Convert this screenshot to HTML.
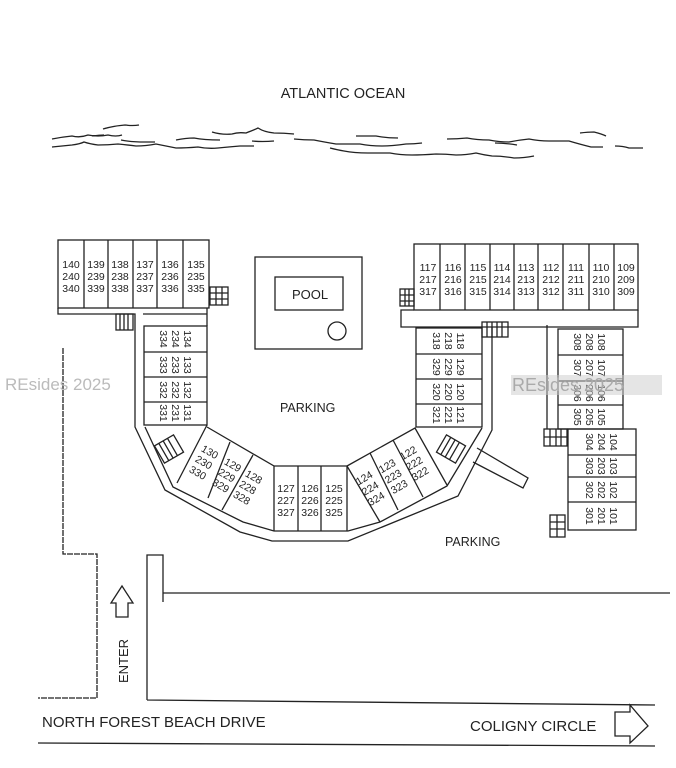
<!DOCTYPE html>
<html><head><meta charset="utf-8"><style>
html,body{margin:0;padding:0;background:#fff;}
svg{display:block;}
text{font-family:"Liberation Sans",sans-serif;fill:#222;}
.u{font-size:10.5px;text-anchor:middle;}
</style></head><body>
<svg width="676" height="768" viewBox="0 0 676 768" xmlns="http://www.w3.org/2000/svg">
<g fill="none" stroke="#222" stroke-width="1.3">
<!-- waves -->
<path d="M52 139 q10-2 20-3 q8 2 16-1 q10 2 20 0 q8 2 14 0 M92 136 q8-1 12-1 M103 129 q10-3 22-4 q8 1 14 0 M121 140 q10 2 24 2 q6 0 10 0 M176 140 q10-2 18-2 q10 2 26 2 M212 132 q10 3 20 2 q6-2 14-1 q8-3 12-5 q6 4 16 5 q10 0 20 1 M252 141 q10 1 22 0 M294 139 q10 1 20 1 q10 2 22 4 q10 0 24 0 q10 2 22 2 q10 0 24 -2 q8 0 16-1 M356 136 q10 0 20 0 q10 2 22 2 M447 139 q10 0 20-1 q10 2 22 2 q10 2 20 2 q10-2 20-3 q10 2 20 2 q10 0 20 0 q10 3 22 6 q6 0 12 0 M580 133 q8-1 14-1 q8 2 12 4 M495 143 q10 0 22 2 M52 147 q10-1 20-2 q8-1 12-3 q6 2 14 3 q10 0 20-1 q10 1 18 2 q10 0 20-2 q10 2 20 4 q10 0 22-1 q10 2 20 1 q10-1 22-2 q8 0 14 0 M330 148 q8 2 14 3 q10 2 24 2 q10 0 22 0 q10 2 22 2 q10 0 24-1 q10 0 20 1 q10 0 20-2 q8 2 16 3 q10 0 22 2 q10 0 20-2 M615 146 q8 0 14 2 q8 0 14 0"/>
<!-- top-left building -->
<rect x="58" y="240" width="151" height="68"/>
<path d="M84 240V308M108 240V308M133 240V308M157 240V308M183 240V308"/>
<path d="M58 308V314H135V427L165 490L240 532L272 541H348L458 496L492 430V327"/>
<path d="M207 308V326"/>
<path d="M143 314H207"/>
<!-- left column units -->
<rect x="144" y="326" width="63" height="99"/>
<path d="M144 352H207M144 377H207M144 402H207"/>
<path d="M145 427L173 487L243 522L274 531H348L380 522L447 486L482 428"/>
<path d="M207 425L177 483M207 427L274 466V531M230 442L208 498M253 455L222 510"/>
<!-- left stairs -->
<rect x="116" y="314" width="17" height="16"/>
<path d="M120 314V330M124 314V330M128 314V330"/>
<rect x="210" y="287" width="18" height="18"/>
<path d="M210 293H228M210 299H228M216 287V305M222 287V305"/>
<g transform="translate(169 449) rotate(-30)"><rect x="-11" y="-10" width="22" height="20"/><path d="M-6 -10V10M-1 -10V10M4 -10V10"/></g>
<!-- bottom center units -->
<path d="M298 466V531M321 466V531M347 466V531M274 466H347"/>
<!-- right wedge -->
<path d="M347 466L415 428L447 485M370 453L398 510M393 440L423 497M380 522L347 466"/>
<g transform="translate(451 449) rotate(30)"><rect x="-11" y="-10" width="22" height="20"/><path d="M-6 -10V10M-1 -10V10M4 -10V10"/></g>
<path d="M477 448L528 478L523 488L473 462"/>
<!-- right column 118-121 -->
<rect x="416" y="328" width="66" height="99"/>
<path d="M416 354H482M416 379H482M416 404H482"/>
<!-- pool -->
<rect x="255" y="257" width="107" height="92"/>
<rect x="275" y="277" width="68" height="33"/>
<circle cx="337" cy="331" r="9"/>
<!-- top-right building -->
<rect x="414" y="244" width="224" height="66"/>
<path d="M440 244V310M465 244V310M490 244V310M514 244V310M538 244V310M563 244V310M589 244V310M614 244V310"/>
<path d="M414 310H401V327H638V310"/>
<rect x="400" y="289" width="14" height="17"/>
<path d="M400 295H414M400 301H414M405 289V306M409 289V306"/>
<rect x="482" y="322" width="26" height="15"/>
<path d="M487 322V337M492 322V337M497 322V337M502 322V337"/>
<!-- 105-108 -->
<path d="M547 325V429"/>
<rect x="558" y="329" width="65" height="100"/>
<path d="M558 355H623M558 381H623M558 405H623"/>
<rect x="568" y="429" width="68" height="101"/>
<path d="M568 455H636M568 477H636M568 502H636"/>
<rect x="544" y="429" width="23" height="17"/>
<path d="M544 437H567M550 429V446M556 429V446M561 429V446"/>
<rect x="550" y="515" width="15" height="22"/>
<path d="M550 522H565M550 529H565M557 515V537"/>
<!-- roads -->
<path d="M63 348V554H97V698H38" stroke-dasharray="6 1"/>
<path d="M147 700V555H163V602M163 593H670M147 700L655 705M38 743L655 746"/>
<path d="M116 617V603H111L122 586L133 603H128V617Z"/>
<path d="M615 712H630V705L648 726L630 743V736H615Z"/>
</g>
<text x="343" y="98" text-anchor="middle" font-size="14.5">ATLANTIC OCEAN</text>
<g class="u">
<text x="71" y="268">140</text><text x="71" y="280">240</text><text x="71" y="292">340</text>
<text x="96" y="268">139</text><text x="96" y="280">239</text><text x="96" y="292">339</text>
<text x="120" y="268">138</text><text x="120" y="280">238</text><text x="120" y="292">338</text>
<text x="145" y="268">137</text><text x="145" y="280">237</text><text x="145" y="292">337</text>
<text x="170" y="268">136</text><text x="170" y="280">236</text><text x="170" y="292">336</text>
<text x="196" y="268">135</text><text x="196" y="280">235</text><text x="196" y="292">335</text>
<text x="428" y="271">117</text><text x="428" y="283">217</text><text x="428" y="295">317</text>
<text x="453" y="271">116</text><text x="453" y="283">216</text><text x="453" y="295">316</text>
<text x="478" y="271">115</text><text x="478" y="283">215</text><text x="478" y="295">315</text>
<text x="502" y="271">114</text><text x="502" y="283">214</text><text x="502" y="295">314</text>
<text x="526" y="271">113</text><text x="526" y="283">213</text><text x="526" y="295">313</text>
<text x="551" y="271">112</text><text x="551" y="283">212</text><text x="551" y="295">312</text>
<text x="576" y="271">111</text><text x="576" y="283">211</text><text x="576" y="295">311</text>
<text x="601" y="271">110</text><text x="601" y="283">210</text><text x="601" y="295">310</text>
<text x="626" y="271">109</text><text x="626" y="283">209</text><text x="626" y="295">309</text>
<text x="286" y="492">127</text><text x="286" y="504">227</text><text x="286" y="516">327</text>
<text x="310" y="492">126</text><text x="310" y="504">226</text><text x="310" y="516">326</text>
<text x="334" y="492">125</text><text x="334" y="504">225</text><text x="334" y="516">325</text>
</g>
<g class="u">
<g transform="translate(176 339) rotate(90)"><text x="0" y="-8">134</text><text x="0" y="4">234</text><text x="0" y="16">334</text></g>
<g transform="translate(176 365) rotate(90)"><text x="0" y="-8">133</text><text x="0" y="4">233</text><text x="0" y="16">333</text></g>
<g transform="translate(176 390) rotate(90)"><text x="0" y="-8">132</text><text x="0" y="4">232</text><text x="0" y="16">332</text></g>
<g transform="translate(176 413) rotate(90)"><text x="0" y="-8">131</text><text x="0" y="4">231</text><text x="0" y="16">331</text></g>
<g transform="translate(449 341) rotate(90)"><text x="0" y="-8">118</text><text x="0" y="4">218</text><text x="0" y="16">318</text></g>
<g transform="translate(449 367) rotate(90)"><text x="0" y="-8">129</text><text x="0" y="4">229</text><text x="0" y="16">329</text></g>
<g transform="translate(449 392) rotate(90)"><text x="0" y="-8">120</text><text x="0" y="4">220</text><text x="0" y="16">320</text></g>
<g transform="translate(449 415) rotate(90)"><text x="0" y="-8">121</text><text x="0" y="4">221</text><text x="0" y="16">321</text></g>
<g transform="translate(590 342) rotate(90)"><text x="0" y="-8">108</text><text x="0" y="4">208</text><text x="0" y="16">308</text></g>
<g transform="translate(590 368) rotate(90)"><text x="0" y="-8">107</text><text x="0" y="4">207</text><text x="0" y="16">307</text></g>
<g transform="translate(590 393) rotate(90)"><text x="0" y="-8">106</text><text x="0" y="4">206</text><text x="0" y="16">306</text></g>
<g transform="translate(590 417) rotate(90)"><text x="0" y="-8">105</text><text x="0" y="4">205</text><text x="0" y="16">305</text></g>
<g transform="translate(602 442) rotate(90)"><text x="0" y="-8">104</text><text x="0" y="4">204</text><text x="0" y="16">304</text></g>
<g transform="translate(602 466) rotate(90)"><text x="0" y="-8">103</text><text x="0" y="4">203</text><text x="0" y="16">303</text></g>
<g transform="translate(602 490) rotate(90)"><text x="0" y="-8">102</text><text x="0" y="4">202</text><text x="0" y="16">302</text></g>
<g transform="translate(602 516) rotate(90)"><text x="0" y="-8">101</text><text x="0" y="4">201</text><text x="0" y="16">301</text></g>
<g transform="translate(204 462) rotate(30)"><text x="0" y="-8">130</text><text x="0" y="4">230</text><text x="0" y="16">330</text></g>
<g transform="translate(227 475) rotate(30)"><text x="0" y="-8">129</text><text x="0" y="4">229</text><text x="0" y="16">329</text></g>
<g transform="translate(248 487) rotate(30)"><text x="0" y="-8">128</text><text x="0" y="4">228</text><text x="0" y="16">328</text></g>
<g transform="translate(370 488) rotate(-30)"><text x="0" y="-8">124</text><text x="0" y="4">224</text><text x="0" y="16">324</text></g>
<g transform="translate(393 476) rotate(-30)"><text x="0" y="-8">123</text><text x="0" y="4">223</text><text x="0" y="16">323</text></g>
<g transform="translate(414 463) rotate(-30)"><text x="0" y="-8">122</text><text x="0" y="4">222</text><text x="0" y="16">322</text></g>
</g>
<text x="292" y="299" font-size="13">POOL</text>
<text x="280" y="412" font-size="12.5">PARKING</text>
<text x="445" y="546" font-size="12.5">PARKING</text>
<text transform="translate(128 683) rotate(-90)" font-size="13">ENTER</text>
<text x="42" y="727" font-size="15">NORTH FOREST BEACH DRIVE</text>
<text x="470" y="731" font-size="15">COLIGNY CIRCLE</text>
<text x="5" y="390" font-size="17" style="fill:#bbb">REsides 2025</text>
<rect x="511" y="375" width="151" height="20" fill="#ccc" opacity="0.5"/>
<text x="512" y="391" font-size="18" style="fill:#aaa">REsides 2025</text>
</svg>
</body></html>
